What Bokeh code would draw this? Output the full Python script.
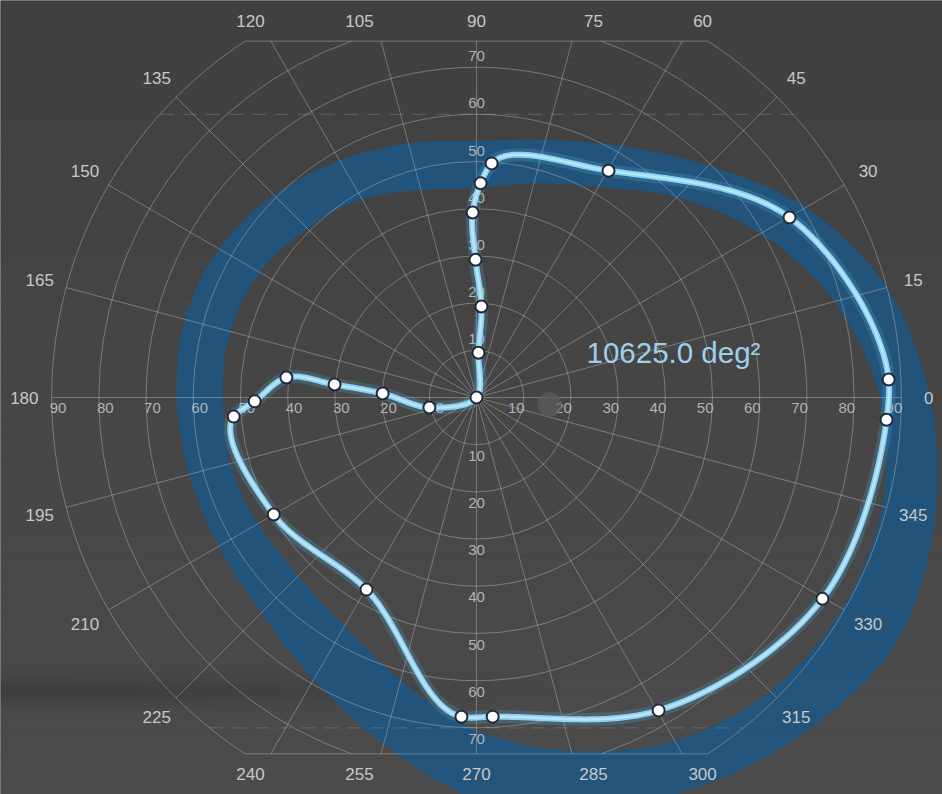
import numpy as np
from bokeh.plotting import figure
from bokeh.embed import file_html
from bokeh.resources import INLINE
from bokeh.core.properties import value

# ---------------- data ----------------
ring_values = [10, 20, 30, 40, 50, 60, 70, 80, 90]
vert_label_values = [10, 20, 30, 40, 50, 60, 70]
spoke_angles = list(range(0, 360, 15))
angle_labels = [str(a) for a in spoke_angles]

# measured isopter (angle in degrees, eccentricity in degrees), in drawing order
iso_angle = [0.0, 87.5, 86.9, 90.4, 91.2, 88.9, 86.3, 59.8, 29.9, 2.5, 356.9, 329.8,
             300.2, 272.9, 267.3, 240.2, 210.0, 184.5, 181.0, 174.0, 174.8, 177.6, 192.0]
iso_ecc = [0.0, 9.5, 19.3, 29.2, 39.2, 45.4, 49.7, 55.6, 76.5, 87.4, 87.0, 84.8,
           76.7, 67.7, 67.7, 46.9, 49.6, 51.6, 47.0, 40.5, 30.2, 19.9, 10.2]

# normal range band
band_angle = list(range(0, 360, 15))
band_inner = [85.5, 78.5, 69.5, 60.0, 51.5, 47.0, 44.3, 45.5, 48.5, 50.6, 53.0, 54.0,
              53.8, 54.0, 53.5, 53.5, 56.0, 62.0, 70.5, 77.5, 84.0, 88.0, 89.5, 89.0]
band_outer = [96.0, 90.0, 80.5, 69.5, 61.5, 56.5, 54.4, 55.7, 58.0, 60.6, 63.0, 64.0,
              63.5, 63.0, 63.0, 64.5, 69.0, 76.0, 85.0, 90.0, 95.0, 99.5, 103.0, 100.5]

dashed_levels = [60, -70]
blind_spot = (15.5, -1.5, 2.6)
area_text = "10625.0 deg²"

# ---------------- layout constants ----------------
S = 4.72            # px per degree
W, H = 942, 794
CX, CY = 476, 397   # centre in figure pixels
CLIP_Y = 75.5
LABEL_R = 95.8
LABEL_YMAX = 79.8
RMAX = max(ring_values)

BG_TOP = np.array([0x40, 0x40, 0x40])
BG_BOT = np.array([0x4b, 0x4b, 0x4b])
GRID = "#c4c4c4"
BAND = "#20547e"
TXT = "#c8c8c8"
FONT = value("Liberation Sans")


def pol2xy(ang, r):
    a = np.radians(np.asarray(ang, dtype=float))
    r = np.asarray(r, dtype=float)
    return r * np.cos(a), r * np.sin(a)


def catmull_closed(px, py, alpha=0.5, steps=24):
    pts = np.column_stack([px, py])
    n = len(pts)
    out = []
    for i in range(n):
        P0, P1, P2, P3 = pts[i - 1], pts[i], pts[(i + 1) % n], pts[(i + 2) % n]
        d1 = max(np.linalg.norm(P1 - P0), 1e-6) ** alpha
        d2 = max(np.linalg.norm(P2 - P1), 1e-6) ** alpha
        d3 = max(np.linalg.norm(P3 - P2), 1e-6) ** alpha
        B1 = (d1 ** 2 * P2 - d2 ** 2 * P0 + (2 * d1 ** 2 + 3 * d1 * d2 + d2 ** 2) * P1) / (3 * d1 * (d1 + d2))
        B2 = (d3 ** 2 * P1 - d2 ** 2 * P3 + (2 * d3 ** 2 + 3 * d3 * d2 + d2 ** 2) * P2) / (3 * d3 * (d3 + d2))
        t = np.linspace(0, 1, steps, endpoint=False)[:, None]
        seg = ((1 - t) ** 3) * P1 + 3 * ((1 - t) ** 2) * t * B1 + 3 * (1 - t) * t ** 2 * B2 + t ** 3 * P2
        out.append(seg)
    out = np.vstack(out)
    out = np.vstack([out, out[:1]])
    return out[:, 0], out[:, 1]


x0, x1 = -CX / S, (W - CX) / S
y0, y1 = -(H - CY) / S, CY / S
p = figure(width=W, height=H, x_range=(x0, x1), y_range=(y0, y1),
           output_backend="svg", toolbar_location=None,
           x_axis_type=None, y_axis_type=None, min_border=0)
p.background_fill_color = "#444444"
p.border_fill_color = "#444444"
p.outline_line_color = None

# background: gentle vertical gradient
NSTRIP = 40
edges = np.linspace(y1, y0, NSTRIP + 1)
cols = []
for k in range(NSTRIP):
    c = BG_TOP + (BG_BOT - BG_TOP) * (k / (NSTRIP - 1))
    cols.append("#%02x%02x%02x" % tuple(int(round(v)) for v in c))
p.quad(left=[x0] * NSTRIP, right=[x1] * NSTRIP, top=list(edges[:-1]), bottom=list(edges[1:]),
       fill_color=cols, line_color=cols, line_width=0.5)

# photo-like soft shadow band at lower left
yc = -(690 - 397) / S
for k in range(20):
    off = (k - 9.5) * 3.0
    a = 0.17 * np.exp(-((k - 9.5) / 5.0) ** 2)
    for j in range(8):
        xa = x0 + j * (560 / S) / 8
        xb = xa + (560 / S) / 8
        p.quad(left=xa, right=xb, bottom=yc + (off - 1.5) / S, top=yc + (off + 1.5) / S,
               fill_color="black", fill_alpha=a * (1 - j / 8.5), line_color=None)

# band
ox, oy = pol2xy(band_angle, band_outer)
ix, iy = pol2xy(band_angle, band_inner)
bx_o, by_o = catmull_closed(ox, oy)
bx_i, by_i = catmull_closed(ix, iy)
p.multi_polygons(xs=[[[list(bx_o), list(bx_i[::-1])]]], ys=[[[list(by_o), list(by_i[::-1])]]],
                 fill_color=BAND, fill_alpha=0.95, line_color=None)

# rings
arc_x, arc_y, arc_r, arc_s, arc_e = [], [], [], [], []
for r in ring_values:
    if r <= CLIP_Y:
        arc_x.append(0); arc_y.append(0); arc_r.append(r); arc_s.append(0.0); arc_e.append(2 * np.pi)
    else:
        a = np.arcsin(CLIP_Y / r)
        arc_x += [0, 0]; arc_y += [0, 0]; arc_r += [r, r]
        arc_s += [-a, np.pi - a]; arc_e += [a, np.pi + a]
p.arc(x=arc_x, y=arc_y, radius=arc_r, start_angle=arc_s, end_angle=arc_e,
      line_color=GRID, line_alpha=0.42, line_width=1)

# spokes
sx1, sy1 = [], []
for a in spoke_angles:
    s = abs(np.sin(np.radians(a)))
    rend = RMAX if s < 1e-9 else min(RMAX, CLIP_Y / s)
    xx, yy = pol2xy(a, rend)
    sx1.append(float(xx)); sy1.append(float(yy))
p.segment(x0=[0] * len(sx1), y0=[0] * len(sy1), x1=sx1, y1=sy1,
          line_color=GRID, line_alpha=0.42, line_width=1)

# clip boundary lines
hx = np.sqrt(RMAX ** 2 - CLIP_Y ** 2)
p.segment(x0=[-hx, -hx], y0=[CLIP_Y, -CLIP_Y], x1=[hx, hx], y1=[CLIP_Y, -CLIP_Y],
          line_color=GRID, line_alpha=0.42, line_width=1)

# dashed reference lines
for lv in dashed_levels:
    hw = np.sqrt(RMAX ** 2 - lv ** 2)
    p.line(x=[-hw, hw], y=[lv, lv], line_color=GRID, line_alpha=0.25,
           line_width=1, line_dash="14 9")

# angle labels
lx, ly = pol2xy(spoke_angles, [LABEL_R] * len(spoke_angles))
ly = np.clip(ly, -LABEL_YMAX, LABEL_YMAX)
p.text(x=list(lx), y=list(ly), text=angle_labels, text_color=TXT, text_font=FONT,
       text_font_size="17px", text_align="center", text_baseline="middle")

# radial tick labels
rl = [str(v) for v in ring_values]
p.text(x=ring_values, y=[0] * len(ring_values), text=rl, text_color=TXT, text_alpha=0.85,
       text_font=FONT, text_font_size="15px", text_align="right", text_baseline="middle",
       x_offset=1, y_offset=10)
p.text(x=[-v for v in ring_values], y=[0] * len(ring_values), text=rl, text_color=TXT, text_alpha=0.85,
       text_font=FONT, text_font_size="15px", text_align="left", text_baseline="middle",
       x_offset=-2, y_offset=10)
vl = [str(v) for v in vert_label_values]
p.text(x=[0] * len(vert_label_values), y=vert_label_values, text=vl, text_color=TXT, text_alpha=0.85,
       text_font=FONT, text_font_size="15px", text_align="center", text_baseline="middle",
       y_offset=-11)
p.text(x=[0] * len(vert_label_values), y=[-v for v in vert_label_values], text=vl, text_color=TXT,
       text_alpha=0.85, text_font=FONT, text_font_size="15px", text_align="center",
       text_baseline="middle", y_offset=11)

# blind spot
p.circle(x=[blind_spot[0]], y=[blind_spot[1]], radius=blind_spot[2],
         fill_color="#5c5c5c", fill_alpha=0.7, line_color=None)

# isopter (near-chordal Catmull-Rom through the measured points)
px_, py_ = pol2xy(iso_angle, iso_ecc)
cx_, cy_ = catmull_closed(px_, py_, alpha=0.85, steps=30)
p.line(cx_, cy_, line_color="#5bbcf0", line_alpha=0.2, line_width=13, line_join="round")
p.line(cx_, cy_, line_color="#8fd1f2", line_width=6, line_join="round")
p.line(cx_, cy_, line_color="#c9eefc", line_alpha=0.7, line_width=2.5, line_join="round")
p.scatter(x=px_, y=py_, size=12, marker="circle", fill_color="white",
          line_color="#232838", line_width=2)

# area text
p.text(x=[(586 - 476) / S], y=[(397 - 352) / S], text=[area_text], text_color="#9fd0ea",
       text_font=FONT, text_font_size="29.5px", text_align="left", text_baseline="alphabetic")

open("out.html", "w").write(file_html(p, INLINE))
